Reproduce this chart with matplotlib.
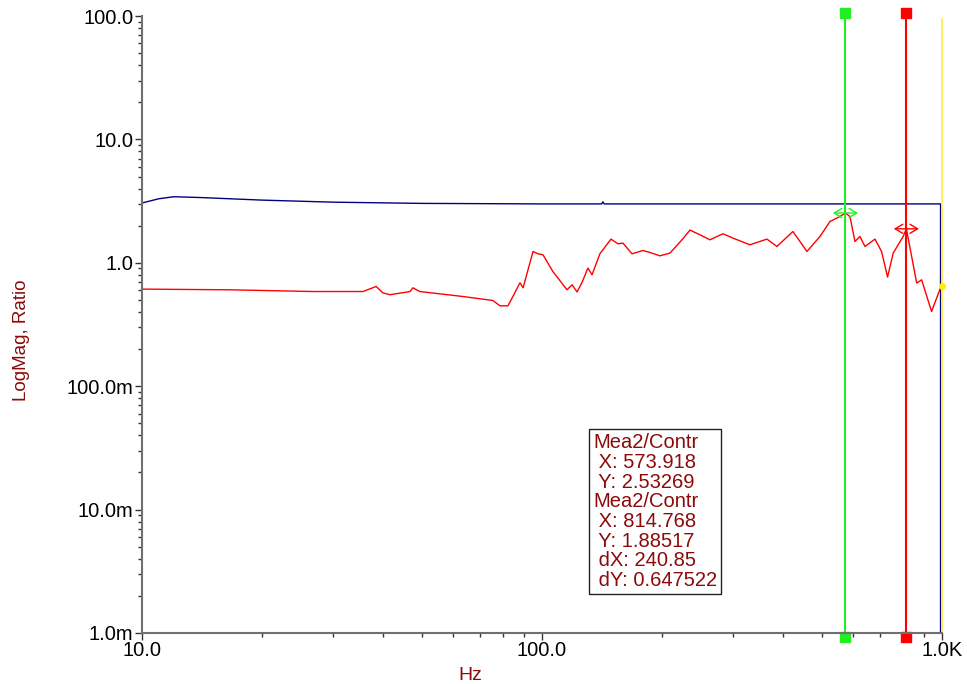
import numpy as np
import matplotlib
matplotlib.use("Agg")
import matplotlib.pyplot as plt
from matplotlib.ticker import FixedLocator, NullFormatter
import matplotlib.transforms as mtransforms

plt.rcParams['font.family'] = ['Liberation Sans', 'DejaVu Sans']

# measured response (Hz, ratio)
red_freq = [10.0, 16.6, 26.8, 35.7, 38.5, 40.0, 41.7, 46.8, 47.6, 49.5, 63.5, 75.4,
            78.5, 82.2, 84.6, 88.1, 89.7, 95.0, 97.7, 100.6, 106.5, 115.5, 118.9,
            122.4, 125.9, 130.3, 133.4, 139.6, 148.8, 154.9, 159.4, 167.9, 178.9,
            186.2, 197.2, 208.9, 223.9, 234.4, 248.3, 263.0, 283.5, 300.3, 331.1,
            365.1, 386.7, 424.1, 459.7, 495.5, 524.8, 555.9, 573.9, 588.8, 606.1,
            623.7, 642.1, 680.0, 706.3, 731.2, 755.2, 799.8, 814.8, 864.7, 889.5,
            942.0, 995.0]
red_val = [0.612, 0.604, 0.585, 0.585, 0.643, 0.571, 0.551, 0.585, 0.627, 0.585, 0.533,
           0.495, 0.448, 0.448, 0.533, 0.689, 0.627, 1.235, 1.183, 1.161, 0.850, 0.604,
           0.663, 0.580, 0.692, 0.906, 0.799, 1.183, 1.556, 1.426, 1.444, 1.183, 1.258,
           1.212, 1.139, 1.198, 1.536, 1.841, 1.686, 1.536, 1.718, 1.585, 1.399, 1.556,
           1.356, 1.793, 1.235, 1.634, 2.161, 2.372, 2.533, 2.372, 1.488, 1.634, 1.356,
           1.556, 1.235, 0.766, 1.198, 1.634, 1.885, 0.685, 0.728, 0.403, 0.645]

blue_freq = [10.0, 11.0, 12.0, 14.0, 20.0, 30.0, 50.0, 100.0, 141.0, 142.0, 143.0, 992.0, 992.0]
blue_val = [3.05, 3.30, 3.43, 3.38, 3.22, 3.10, 3.03, 3.00, 3.00, 3.12, 3.00, 3.00, 0.001]

cursor1 = (573.918, 2.53269)
cursor2 = (814.768, 1.88517)
end_point = (1000.0, 0.65)

xticks = [10, 100, 1000]
xtick_labels = ['10.0', '100.0', '1.0K']
yticks = [1e-3, 1e-2, 1e-1, 1, 10, 100]
ytick_labels = ['1.0m', '10.0m', '100.0m', '1.0', '10.0', '100.0']

readout = ["Mea2/Contr", " X: 573.918", " Y: 2.53269", "Mea2/Contr",
           " X: 814.768", " Y: 1.88517", " dX: 240.85", " dY: 0.647522"]

dark_red = '#8b0a0a'

fig = plt.figure(figsize=(9.67, 6.84), dpi=100)
ax = fig.add_axes([0.1468, 0.0746, 0.8273, 0.902])

ax.plot(blue_freq, blue_val, color='#000080', lw=1.0)
ax.plot(red_freq, red_val, color='#ff0000', lw=1.0)

ax.set_xscale('log')
ax.set_yscale('log')
ax.set_xlim(10, 1000)
ax.set_ylim(1e-3, 100)

# cursor lines with square handles and double arrows
trans = mtransforms.blended_transform_factory(ax.transData, ax.transAxes)
for (cx, cy), col in [(cursor1, '#22ee22'), (cursor2, '#ff0000')]:
    ax.axvline(cx, color=col, lw=1.5, clip_on=False)
    ax.plot([cx, cx], [1.005, -0.006], 's', color=col, ms=7, transform=trans, clip_on=False)
    ax.annotate('', xy=(cx * 1.075, cy), xytext=(cx / 1.075, cy),
                arrowprops=dict(arrowstyle='<->,head_length=0.5,head_width=0.3',
                                color=col, lw=1.0, shrinkA=0, shrinkB=0,
                                mutation_scale=11))

ax.plot([end_point[0], end_point[0]], [0.0, 0.995], color='#ffee44', lw=1.2,
        transform=trans, clip_on=False)
ax.plot([end_point[0]], [end_point[1]], 'o', color='#ffee00', ms=4, clip_on=False)

for s in ['top', 'right']:
    ax.spines[s].set_visible(False)
for s in ['left', 'bottom']:
    ax.spines[s].set_color('#707070')
    ax.spines[s].set_linewidth(1.5)

ax.xaxis.set_major_locator(FixedLocator(xticks))
ax.set_xticklabels(xtick_labels)
ax.yaxis.set_major_locator(FixedLocator(yticks))
ax.set_yticklabels(ytick_labels)
ax.xaxis.set_minor_formatter(NullFormatter())
ax.yaxis.set_minor_formatter(NullFormatter())
ax.tick_params(which='major', length=5, width=1, color='#333333', labelsize=14.5, pad=1)
ax.tick_params(which='minor', length=3, width=1, color='#333333')

ax.set_xlabel('Hz', color=dark_red, fontsize=14)
ax.xaxis.set_label_coords(0.41, -0.055)
ax.set_ylabel('LogMag, Ratio', color=dark_red, fontsize=13.5)
ax.yaxis.set_label_coords(-0.14, 0.475)

fig.text(593 / 967, 1 - 433 / 684, "\n".join(readout), color=dark_red, fontsize=14.5,
         va='top', ha='left', linespacing=1.05,
         bbox=dict(boxstyle='square,pad=0.2', facecolor='white', edgecolor='#222222', lw=1))

fig.savefig('out.png', dpi=100)
